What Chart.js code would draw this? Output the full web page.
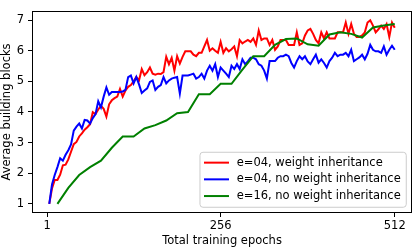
<!DOCTYPE html>
<html>
<head>
<meta charset="utf-8">
<script src="https://cdn.jsdelivr.net/npm/chart.js@4/dist/chart.umd.min.js"></script>
<style>
  body { margin: 0; background: #fff; }
  #chart { display: block; }
</style>
</head>
<body>
<canvas id="chart" width="415" height="249"></canvas>
<script>
// valores (bloques medios por epoca)
const seriesNames = ['e=04, weight inheritance', 'e=04, no weight inheritance', 'e=16, no weight inheritance'];

const redValues = [
  1.0, 1.5, 1.78, 1.78, 1.95, 2.26, 2.28, 2.45, 2.7, 2.95, 3.02, 3.2, 3.3, 3.42, 3.5, 3.6,
  3.99, 3.93, 4.08, 4.2, 4.1, 3.85, 4.25, 4.38, 4.45, 4.5, 4.75, 4.5, 4.7, 4.82, 4.88, 5.0,
  5.14, 5.03, 5.4, 5.2, 5.3, 5.45, 5.25, 5.22, 5.25, 5.24, 5.3, 5.8, 5.56, 5.77, 5.35, 5.82,
  5.58, 5.8, 5.98, 5.98, 5.98, 5.87, 5.82, 5.93, 5.93, 6.14, 6.35, 6.0, 6.08, 6.0, 5.93, 6.29,
  5.93, 6.08, 5.98, 6.05, 6.14, 5.82, 6.35, 6.24, 6.3, 6.35, 6.29, 6.4, 6.19, 6.66, 6.35, 6.4,
  6.4, 6.19, 6.35, 6.03, 6.14, 6.35, 6.35, 6.35, 6.19, 6.19, 6.19, 6.6, 6.19, 6.24, 6.5, 6.66,
  6.71, 6.55, 6.35, 6.24, 6.6, 6.4, 6.6, 6.4, 6.4, 6.4, 6.6, 6.6, 6.6, 6.92, 6.55, 6.87,
  6.55, 6.45, 6.45, 6.5, 6.6, 6.92, 6.99, 6.82, 6.6, 6.7, 6.82, 6.71, 6.87, 6.45, 6.92, 6.75
];

const blueValues = [
  1.0, 1.63, 1.94, 2.2, 2.49, 2.41, 2.6, 2.75, 2.94, 3.39, 3.52, 3.62, 3.46, 3.74, 3.72, 3.62,
  3.8, 3.93, 4.35, 4.15, 4.5, 4.8, 4.56, 4.65, 4.65, 4.65, 4.65, 4.67, 4.72, 5.14, 5.19, 4.93,
  5.14, 4.9, 4.62, 4.7, 4.77, 4.98, 5.03, 4.72, 4.82, 4.88, 5.14, 4.93, 5.03, 5.09, 5.12, 5.14,
  4.6, 5.19, 5.19, 5.19, 5.22, 5.25, 5.09, 5.14, 5.25, 5.09, 5.35, 5.51, 5.35, 5.56, 5.14, 5.45,
  5.35, 5.25, 5.14, 5.51, 5.4, 5.56, 5.4, 5.72, 5.56, 5.65, 5.77, 5.77, 5.72, 5.56, 5.51, 5.35,
  5.09, 5.66, 5.66, 5.66, 5.77, 5.82, 5.82, 5.87, 5.82, 5.6, 5.45, 5.66, 5.82, 5.72, 5.82, 5.65,
  5.56, 5.72, 5.87, 5.61, 5.72, 5.6, 5.45, 5.66, 5.77, 5.93, 5.82, 5.87, 5.87, 5.93, 5.82, 6.03,
  5.66, 5.72, 5.78, 5.87, 5.72, 5.9, 6.19, 6.03, 5.98, 5.98, 5.93, 6.14, 5.87, 6.03, 6.16, 6.03
];

const greenEpochs = [16, 32, 48, 64, 80, 96, 112, 128, 144, 160, 176, 192, 208, 224, 240, 256,
  272, 288, 304, 320, 336, 352, 368, 384, 400, 416, 432, 448, 464, 480, 496, 512];
const greenValues = [1.0, 1.52, 1.94, 2.2, 2.41, 2.83, 3.2, 3.2, 3.46, 3.57, 3.72, 3.96, 4.0, 4.58, 4.58, 4.92,
  4.92, 5.38, 5.82, 5.82, 6.19, 6.38, 6.4, 6.21, 6.16, 6.53, 6.6, 6.55, 6.43, 6.76, 6.82, 6.87];

// e=04 -> una medida cada 4 epocas
const e04Epochs = redValues.map((v, i) => 4 * (i + 1));

const xTicks = [1, 256, 512];
const yTicks = [1, 2, 3, 4, 5, 6, 7];

const FONT = { family: 'DejaVu Sans', size: 11.5 };

// marco completo de los ejes + leyenda abajo a la derecha (estilo matplotlib)
const frameAndLegend = {
  id: 'frameAndLegend',
  afterDatasetsDraw(chart) {
    const { ctx, chartArea: a } = chart;
    ctx.save();
    ctx.strokeStyle = '#000';
    ctx.lineWidth = 1;
    ctx.strokeRect(Math.round(a.left) + 0.5, Math.round(a.top) + 0.5,
      Math.round(a.right - a.left) - 1, Math.round(a.bottom - a.top) - 1);

    ctx.font = FONT.size + 'px ' + FONT.family;
    const ds = chart.data.datasets;
    const textW = Math.max(...ds.map(d => ctx.measureText(d.label).width));
    const w = 4 + 25 + 7.7 + textW + 5.5;
    const h = 55;
    const right = a.right - 5.75, bottom = a.bottom - 5.75;
    const left = right - w, top = bottom - h;
    ctx.beginPath();
    ctx.roundRect(left, top, w, h, 3);
    ctx.fillStyle = 'rgba(255,255,255,0.8)';
    ctx.fill();
    ctx.strokeStyle = '#cccccc';
    ctx.lineWidth = 1;
    ctx.stroke();

    ds.forEach((d, i) => {
      const y = top + 10.4 + i * 16.7;
      ctx.beginPath();
      ctx.moveTo(left + 4, y);
      ctx.lineTo(left + 29, y);
      ctx.strokeStyle = d.borderColor;
      ctx.lineWidth = 2;
      ctx.stroke();
      ctx.fillStyle = '#000';
      ctx.textBaseline = 'middle';
      ctx.textAlign = 'left';
      ctx.fillText(d.label, left + 36.7, y);
    });
    ctx.restore();
  }
};

const chart = new Chart(document.getElementById('chart').getContext('2d'), {
  type: 'line',
  data: {
    datasets: [
      {
        label: seriesNames[0],
        data: e04Epochs.map((x, i) => ({ x: x, y: redValues[i] })),
        borderColor: '#ff0000',
        order: 3
      },
      {
        label: seriesNames[1],
        data: e04Epochs.map((x, i) => ({ x: x, y: blueValues[i] })),
        borderColor: '#0000ff',
        order: 2
      },
      {
        label: seriesNames[2],
        data: greenEpochs.map((x, i) => ({ x: x, y: greenValues[i] })),
        borderColor: '#008000',
        order: 1
      }
    ]
  },
  options: {
    responsive: false,
    animation: false,
    devicePixelRatio: 1,
    elements: {
      line: { borderWidth: 2, tension: 0, fill: false },
      point: { radius: 0 }
    },
    layout: { padding: { left: 0, right: 3, top: 3, bottom: 0 } },
    plugins: {
      legend: { display: false },
      tooltip: { enabled: false }
    },
    scales: {
      x: {
        type: 'linear',
        min: -21.4,
        max: 537.4,
        afterBuildTicks: s => { s.ticks = xTicks.map(v => ({ value: v })); },
        afterFit: s => { s.height = 36; },
        ticks: { autoSkip: false, maxRotation: 0, padding: 2, color: '#000', font: FONT },
        grid: { drawOnChartArea: false, drawTicks: true, tickLength: 4, color: '#000', lineWidth: 1 },
        border: { display: false },
        title: { display: true, text: 'Total training epochs', color: '#000', font: FONT, padding: { top: 0, bottom: 1 } }
      },
      y: {
        min: 0.7,
        max: 7.3,
        afterBuildTicks: s => { s.ticks = yTicks.map(v => ({ value: v })); },
        afterFit: s => { s.width = 32; },
        ticks: { autoSkip: false, padding: 4, color: '#000', font: FONT },
        grid: { drawOnChartArea: false, drawTicks: true, tickLength: 4, color: '#000', lineWidth: 1 },
        border: { display: false },
        title: { display: true, text: 'Average building blocks', color: '#000', font: FONT, padding: { top: 0, bottom: 0 } }
      }
    }
  },
  plugins: [frameAndLegend]
});
</script>
</body>
</html>
